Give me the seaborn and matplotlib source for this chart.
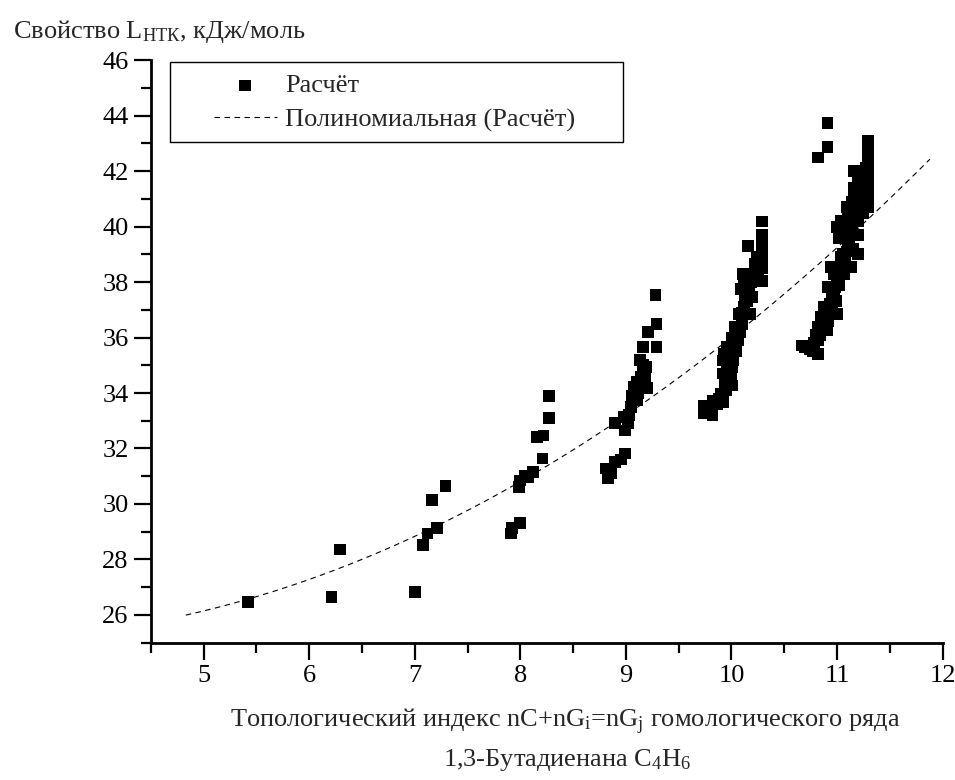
import numpy as np
import matplotlib
matplotlib.use('Agg')
import matplotlib.pyplot as plt
import seaborn as sns
from matplotlib.patches import Rectangle
from matplotlib.ticker import MultipleLocator

# "Расчёт" points, grouped by cluster
calc_x = [5.42,
          6.21, 6.29,
          7.00, 7.08, 7.12, 7.16, 7.21, 7.29,
          7.91, 7.92, 8.00, 7.99, 8.00, 8.04, 8.07, 8.12, 8.21, 8.16, 8.22, 8.27, 8.27,
          8.81, 8.83, 8.86, 8.90, 8.90, 8.95, 8.99, 8.99, 8.98, 9.02, 9.05, 9.08, 9.11,
          9.10, 9.14, 9.20, 9.19, 9.16, 9.16, 9.29, 9.21, 9.29, 9.28,
          9.03, 9.06, 9.12, 9.13, 9.18,
          9.74, 9.74, 9.78, 9.82, 9.82, 9.86, 9.90, 9.92, 9.92, 9.94, 9.92, 9.96, 9.96,
          10.01, 10.01, 10.00, 10.03, 10.06, 10.04, 10.07, 10.10, 10.12, 10.18, 10.15,
          10.20, 10.09, 10.12, 10.11, 10.16, 10.22, 10.20, 10.25, 10.29, 10.29, 10.29,
          10.29, 10.29, 10.16, 10.29,
          9.76, 9.80, 9.88, 9.95, 9.97, 9.98, 10.02, 10.05, 10.08, 10.10, 10.13, 10.17,
          10.14, 10.19, 10.23, 10.26, 10.24, 10.00, 9.93,
          10.67, 10.74, 10.82, 10.78, 10.82, 10.82, 10.85, 10.91, 10.88, 10.92, 10.95,
          11.00, 10.99, 10.91, 10.95, 11.00, 11.07, 10.94, 11.04, 11.13, 11.10, 11.06,
          11.00, 11.04, 11.09, 11.12, 11.20, 11.20, 11.16, 11.16, 11.16, 11.16, 11.22,
          11.29, 11.29, 11.29, 11.29, 11.29, 11.29, 11.29, 10.82, 10.91, 10.91,
          10.70, 10.77, 10.80, 10.84, 10.86, 10.88, 10.90, 10.93, 10.97, 10.98, 11.02,
          11.03, 11.05, 11.08, 11.09, 11.11, 11.14, 11.02, 11.06, 11.10, 11.13, 11.14,
          11.18, 11.20, 11.22, 11.25, 11.27, 11.24, 11.27, 11.20, 11.25, 10.97, 11.15]
calc_y = [26.48,
          26.66, 28.36,
          26.82, 28.52, 28.94, 30.14, 29.14, 30.64,
          28.94, 29.14, 29.32, 30.62, 30.85, 31.00, 30.97, 31.15, 31.64, 32.41, 32.47, 33.10, 33.88,
          31.28, 30.92, 31.10, 31.52, 32.92, 31.60, 31.82, 32.65, 33.13, 32.90, 33.50, 34.21, 33.73,
          34.40, 34.57, 34.17, 34.93, 35.00, 35.65, 35.65, 36.20, 36.49, 37.54,
          33.20, 33.90, 34.00, 35.20, 34.50,
          33.26, 33.55, 33.40, 33.19, 33.73, 33.60, 33.97, 33.67, 34.70, 34.30, 35.17, 35.65, 34.90,
          34.27, 34.93, 36.00, 36.37, 35.90, 35.50, 36.85, 36.50, 37.10, 36.85, 37.30,
          37.45, 37.75, 38.00, 38.29, 38.10, 38.65, 38.30, 38.20, 38.05, 38.50, 38.90,
          39.30, 39.70, 39.31, 40.18,
          33.35, 33.50, 33.80, 34.10, 34.50, 35.30, 35.20, 36.10, 36.20, 36.90, 37.50, 37.70,
          37.90, 38.00, 38.40, 38.70, 38.90, 34.60, 35.40,
          35.71, 35.59, 35.41, 35.80, 35.90, 36.37, 36.73, 36.25, 37.09, 36.60, 37.00,
          36.85, 37.33, 37.81, 37.60, 38.05, 38.29, 38.53, 38.89, 38.53, 39.37, 39.00,
          39.97, 40.21, 40.69, 40.00, 39.70, 39.00, 40.60, 41.00, 41.40, 42.00, 41.20,
          40.70, 41.10, 41.50, 41.90, 42.30, 42.70, 43.09, 42.49, 42.87, 43.72,
          35.65, 35.50, 36.10, 36.10, 36.40, 36.50, 36.90, 37.20, 37.40, 37.80, 37.90,
          38.40, 38.60, 38.80, 39.10, 39.60, 39.80, 39.60, 40.00, 40.30, 40.50, 40.90,
          41.20, 41.60, 40.60, 41.00, 41.30, 41.80, 42.10, 40.20, 40.50, 38.30, 39.20]

trend_x_start = 4.83
trend_x_end = 11.88

x_ticks = [5, 6, 7, 8, 9, 10, 11, 12]
y_ticks = [26, 28, 30, 32, 34, 36, 38, 40, 42, 44, 46]

sns.set_style('ticks')
plt.rcParams['font.family'] = ['Liberation Serif', 'DejaVu Serif']
plt.rcParams['mathtext.fontset'] = 'custom'
plt.rcParams['mathtext.rm'] = 'Liberation Serif'
plt.rcParams['mathtext.it'] = 'Liberation Serif'

fig = plt.figure(figsize=(9.55, 7.8), dpi=100)
ax = fig.add_axes([0.158, 0.176, 0.829, 0.747])

# polynomial (2nd order) trend of the calculated points
coef = np.polyfit(calc_x, calc_y, 2)
trend_x = np.linspace(trend_x_start, trend_x_end, 200)
trend_y = np.polyval(coef, trend_x)

sns.lineplot(x=trend_x, y=trend_y, ax=ax, color='black', linewidth=0.8,
             linestyle=(0, (5, 4)), label='Полиномиальная (Расчёт)', zorder=2)
sns.scatterplot(x=calc_x, y=calc_y, ax=ax, marker='s', color='black', s=72,
                edgecolor='none', label='Расчёт', zorder=3)

ax.set_xlim(4.5, 12)
ax.set_ylim(25, 46)
ax.set_xticks(x_ticks)
ax.set_yticks(y_ticks)
ax.xaxis.set_minor_locator(MultipleLocator(0.5))
ax.yaxis.set_minor_locator(MultipleLocator(1))
ax.tick_params(axis='both', which='major', length=12, width=1.6, labelsize=19,
               color='black', labelcolor='black', direction='out', pad=4)
ax.tick_params(axis='both', which='minor', length=7, width=1.6, color='black', direction='out')
for side in ['top', 'right']:
    ax.spines[side].set_visible(False)
for side in ['left', 'bottom']:
    ax.spines[side].set_linewidth(2)
    ax.spines[side].set_color('black')
ax.set_xlabel('')
ax.set_ylabel('')

# legend, with order scatter first
handles, labels = ax.get_legend_handles_labels()
order = [labels.index('Расчёт'), labels.index('Полиномиальная (Расчёт)')]
leg = ax.legend([handles[i] for i in order], [labels[i] for i in order],
                loc='upper left', bbox_to_anchor=(0.056, 1.008), frameon=False,
                fontsize=19, handlelength=2.4, handletextpad=0.3, labelspacing=0.4,
                borderpad=0.2, markerscale=1.0)
ax.add_patch(Rectangle((0.024, 0.859), 0.572, 0.138, transform=ax.transAxes,
                       fill=False, edgecolor='black', linewidth=1.0, clip_on=False, zorder=5))

fig.text(0.0136, 0.951, 'Свойство L$_{\\mathregular{НТК}}$, кДж/моль', fontsize=19,
         ha='left', va='baseline')
fig.text(0.592, 0.068, 'Топологический индекс nC+nG$_{\\mathregular{i}}$=nG$_{\\mathregular{j}}$ гомологического ряда',
         fontsize=19, ha='center', va='baseline')
fig.text(0.594, 0.018, '1,3-Бутадиенана C$_{\\mathregular{4}}$H$_{\\mathregular{6}}$',
         fontsize=19, ha='center', va='baseline')

fig.savefig('out.png', dpi=100, facecolor='white')
